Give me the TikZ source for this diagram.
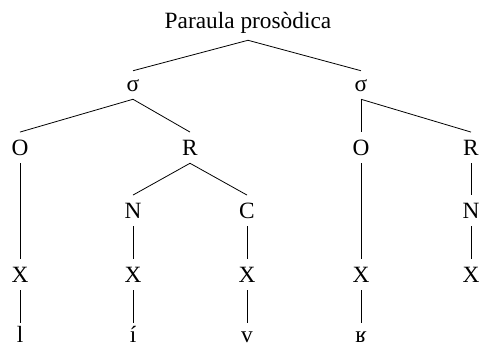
\documentclass[tikz,border=0pt]{standalone}
\usepackage{fontspec}
\setmainfont{Liberation Serif}

\begin{document}
\begin{tikzpicture}[x=0.75pt,y=-0.75pt]
        \tikzstyle{every node}=[inner xsep=0pt,inner ysep=6pt,text depth=0pt,anchor=base,font=\fontsize{17.5}{21}\selectfont]
        \tikzstyle{seg}=[text height=11pt]
        \tikzstyle{syl}=[text height=9pt]
        \tikzstyle{word}=[text depth=3pt,inner ysep=6pt]
        \tikzstyle{sound}=[text height=9pt,inner ysep=1pt]
        \useasboundingbox (0,0) rectangle (480,347);
        \node[word] (pw) at (248,28) {Paraula prosòdica};
        \node[syl] (s1) at (133,91) {σ};
        \node[syl] (s2) at (361,91) {σ};
        \node[seg] (o1) at (20,155) {O};
        \node[seg] (r1) at (190,155) {R};
        \node[seg] (o2) at (361,155) {O};
        \node[seg] (r2) at (471,155) {R};
        \node[seg] (n1) at (133,218) {N};
        \node[seg] (c1) at (247,218) {C};
        \node[seg] (n2) at (471,218) {N};
        \node[seg] (x1) at (20,282) {X};
        \node[seg] (x2) at (133,282) {X};
        \node[seg] (x3) at (247,282) {X};
        \node[seg] (x4) at (361,282) {X};
        \node[seg] (x5) at (471,282) {X};
        \node[sound] (b1) at (20,342) {l};
        \node[sound] (b2) at (133,342) {í};
        \node[sound] (b3) at (247,342) {v};
        \node[sound] (b4) at (361,342) {ʁ};
        \foreach \a/\b in {pw/s1,pw/s2,s1/o1,s1/r1,s2/o2,s2/r2,r1/n1,r1/c1,r2/n2,
                o1/x1,n1/x2,c1/x3,o2/x4,n2/x5}
            \draw[line width=0.6pt] (\a.south) -- (\b.north);
        \foreach \a/\b in {x1/b1,x2/b2,x3/b3,x4/b4}
            \draw[line width=0.6pt,shorten >=4pt] (\a.south) -- (\b.north);
\end{tikzpicture}
\end{document}
